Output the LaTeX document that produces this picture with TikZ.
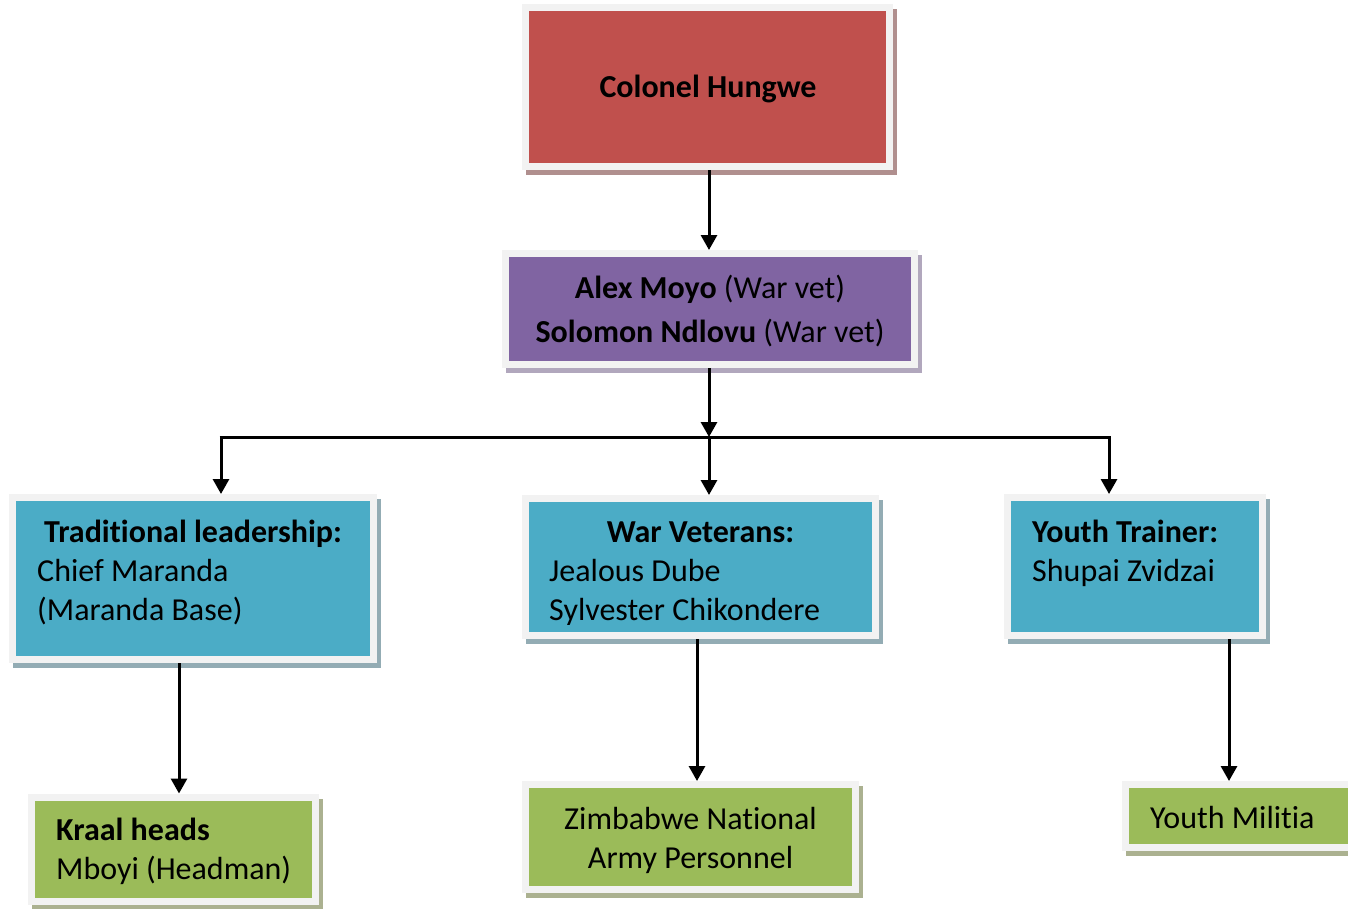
\documentclass[tikz,border=0pt]{standalone}
\usepackage{fontspec}
\setmainfont{Carlito}[RawFeature={-liga}]
\usetikzlibrary{arrows.meta}
\definecolor{redf}{HTML}{C0504D}
\definecolor{reds}{HTML}{B08F8E}
\definecolor{purf}{HTML}{8064A2}
\definecolor{purs}{HTML}{B1A7BD}
\definecolor{bluf}{HTML}{4BACC6}
\definecolor{blus}{HTML}{93ACB4}
\definecolor{grnf}{HTML}{9BBB59}
\definecolor{grns}{HTML}{ABB190}
\definecolor{rim}{HTML}{F2F2F2}
\tikzset{
  orgbox/.style 2 args={rectangle, inner sep=0pt, fill=#1, draw=rim, line width=7pt,
    preaction={fill=#2, draw=#2, transform canvas={shift={(4pt,-5pt)}}}},
  txt/.style={inner sep=0pt, font=\fontsize{32}{39}\selectfont},
  arr/.style={line width=3pt, -{Triangle[width=16pt,length=15pt]}},
  conn/.style={line width=3pt}
}
\begin{document}
\begin{tikzpicture}[x=1pt,y=-1pt]
\useasboundingbox (0,0) rectangle (1348,908);
\clip (0,0) rectangle (1348,908);
% boxes
\node[orgbox={redf}{reds}, minimum width=364pt, minimum height=159pt] (col) at (707.5,87) {};
\node[orgbox={purf}{purs}, minimum width=409pt, minimum height=111pt] (pur) at (710,309) {};
\node[orgbox={bluf}{blus}, minimum width=361pt, minimum height=162pt] (trad) at (193,578.5) {};
\node[orgbox={bluf}{blus}, minimum width=350pt, minimum height=137pt] (war) at (700.5,567) {};
\node[orgbox={bluf}{blus}, minimum width=255pt, minimum height=138pt] (yt) at (1135,566.5) {};
\node[orgbox={grnf}{grns}, minimum width=284pt, minimum height=104pt] (kraal) at (173.5,849) {};
\node[orgbox={grnf}{grns}, minimum width=330pt, minimum height=105pt] (zim) at (690.5,837) {};
\node[orgbox={grnf}{grns}, minimum width=251pt, minimum height=63pt] (mil) at (1251,816) {};
% texts
\node[txt, anchor=base] (tcol) at (708,97) {\textbf{Colonel Hungwe}};
\node[txt, anchor=base] (tpur1) at (710,298) {\textbf{Alex Moyo} (War vet)};
\node[txt, anchor=base] (tpur2) at (710,342) {\textbf{Solomon Ndlovu} (War vet)};
\node[txt, anchor=base] (ttrad1) at (193,542) {\textbf{Traditional leadership:}};
\node[txt, anchor=base west] (ttrad2) at (37,581) {Chief Maranda};
\node[txt, anchor=base west] (ttrad3) at (37,620) {(Maranda Base)};
\node[txt, anchor=base] (twar1) at (700.5,542) {\textbf{War Veterans:}};
\node[txt, anchor=base west] (twar2) at (549,581) {Jealous Dube};
\begin{scope}
\clip (529,502) rectangle (872,624);
\node[txt, anchor=base west] (twar3) at (549,620) {Sylvester Chikondere};
\end{scope}
\node[txt, anchor=base west] (tyt1) at (1032,542) {\textbf{Youth Trainer:}};
\node[txt, anchor=base west] (tyt2) at (1032,581) {Shupai Zvidzai};
\node[txt, anchor=base west] (tkr1) at (56,840) {\textbf{Kraal heads}};
\node[txt, anchor=base west] (tkr2) at (56,879) {Mboyi (Headman)};
\node[txt, anchor=base] (tzim1) at (690.5,829) {Zimbabwe National};
\node[txt, anchor=base] (tzim2) at (690.5,868) {Army Personnel};
\node[txt, anchor=base west] (tmil) at (1150,828) {Youth Militia};
% connectors
\coordinate (j) at (709,437);
\coordinate (jl) at (221,437);
\coordinate (jr) at (1109,437);
\coordinate (c1) at (179,0);
\coordinate (c2) at (697,0);
\coordinate (c3) at (1229,0);
\draw[arr] (col.south -| j) -- (pur.north -| j);
\draw[arr] (pur.south -| j) -- (j);
\draw[conn] ([xshift=-1.5pt]jl) -- ([xshift=1.5pt]jr);
\draw[arr] (jl) -- (jl |- trad.north);
\draw[arr] (j) -- (j |- war.north);
\draw[arr] (jr) -- (jr |- yt.north);
\draw[arr] (trad.south -| c1) -- (kraal.north -| c1);
\draw[arr] (war.south -| c2) -- (zim.north -| c2);
\draw[arr] (yt.south -| c3) -- (mil.north -| c3);
\end{tikzpicture}
\end{document}
